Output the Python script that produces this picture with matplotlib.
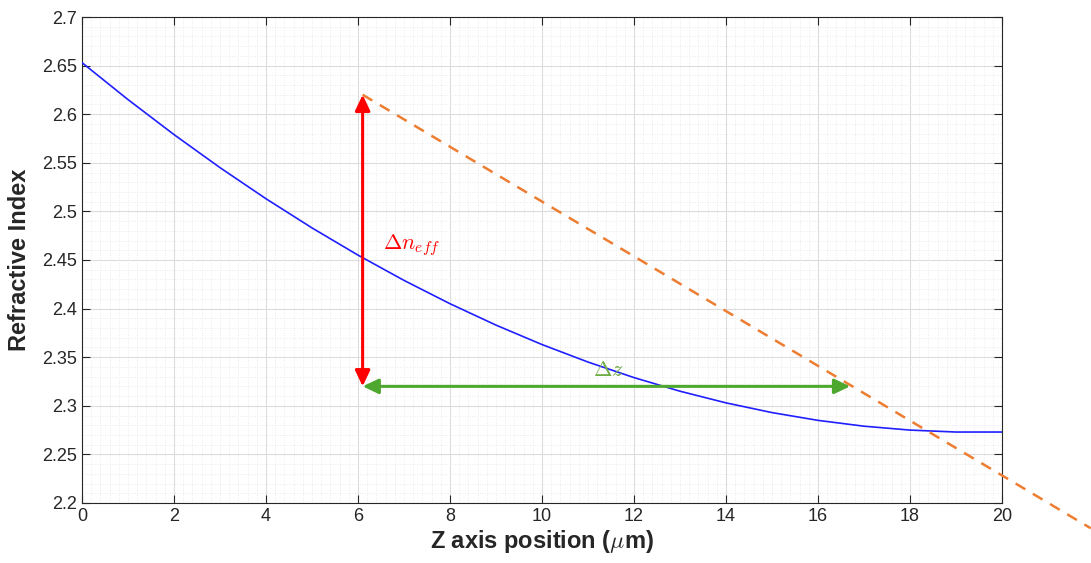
import numpy as np
import matplotlib.pyplot as plt
from matplotlib.ticker import MultipleLocator

# blue curve: refractive index vs z position
z = [0, 1, 2, 3, 4, 5, 6, 7, 8, 9, 10, 11, 12, 13, 14, 15, 16, 17, 18, 19, 20]
n_index = [2.653, 2.615, 2.579, 2.545, 2.513, 2.483, 2.455, 2.429, 2.405, 2.383,
           2.363, 2.345, 2.329, 2.315, 2.303, 2.293, 2.285, 2.279, 2.275, 2.273, 2.273]

# tangent (dashed) line endpoints
tan_x = [6.1, 21.93]
tan_y = [2.62, 2.174]

# arrows
dn_x = 6.1
dn_y0, dn_y1 = 2.32, 2.62
dz_x0, dz_x1 = 6.1, 16.7
dz_y = 2.32

ytick_vals = [2.2, 2.25, 2.3, 2.35, 2.4, 2.45, 2.5, 2.55, 2.6, 2.65, 2.7]
ytick_labels = ['2.2', '2.25', '2.3', '2.35', '2.4', '2.45', '2.5', '2.55', '2.6', '2.65', '2.7']

plt.rcParams['font.family'] = ['Liberation Sans', 'DejaVu Sans']
plt.rcParams['mathtext.fontset'] = 'cm'

fig = plt.figure(figsize=(10.91, 5.63), dpi=100)
ax = fig.add_axes([0.0752, 0.1066, 0.8432, 0.8632])

ax.plot(z, n_index, color='#1f1fff', linewidth=1.2, zorder=3)
ax.plot(tan_x, tan_y, color='#ED7D31', linewidth=1.8, linestyle=(0, (4.5, 3.5)),
        clip_on=False, zorder=3)

head = '<|-|>,head_length=0.95,head_width=0.45'
ax.annotate('', xy=(dn_x, dn_y1), xytext=(dn_x, dn_y0),
            arrowprops=dict(arrowstyle=head, color='#ff0000',
                            lw=2.2, mutation_scale=10, shrinkA=0, shrinkB=0), zorder=4)
ax.annotate('', xy=(dz_x1, dz_y), xytext=(dz_x0, dz_y),
            arrowprops=dict(arrowstyle=head, color='#4EA72E',
                            lw=2.2, mutation_scale=10, shrinkA=0, shrinkB=0), zorder=4)

ax.text(6.55, 2.452, r'$\Delta n_{eff}$', color='#ff0000', fontsize=16, ha='left', va='bottom')
ax.text(11.1, 2.326, r'$\Delta z$', color='#70AD47', fontsize=16, ha='left', va='bottom')

ax.set_xlim(0, 20)
ax.set_ylim(2.2, 2.7)
ax.xaxis.set_major_locator(MultipleLocator(2))
ax.xaxis.set_minor_locator(MultipleLocator(0.2))
ax.set_yticks(ytick_vals)
ax.set_yticklabels(ytick_labels)
ax.yaxis.set_minor_locator(MultipleLocator(0.01))

ax.grid(which='major', color='#dcdcdc', linewidth=0.8)
ax.grid(which='minor', color='#e4e4e4', linewidth=0.6, linestyle=(0, (1, 2)))
ax.set_axisbelow(True)
ax.tick_params(which='both', direction='in', top=True, right=True, labelsize=13, colors='#262626')
ax.tick_params(which='major', length=6)
ax.tick_params(which='minor', length=0)
for s in ax.spines.values():
    s.set_color('#262626')
    s.set_linewidth(0.8)

ax.set_xlabel(r'Z axis position ($\mu$m)', fontsize=17, fontweight='bold', color='#262626', labelpad=2)
ax.set_ylabel('Refractive Index', fontsize=17, fontweight='bold', color='#262626', labelpad=8)

fig.savefig('out.png', dpi=100)
